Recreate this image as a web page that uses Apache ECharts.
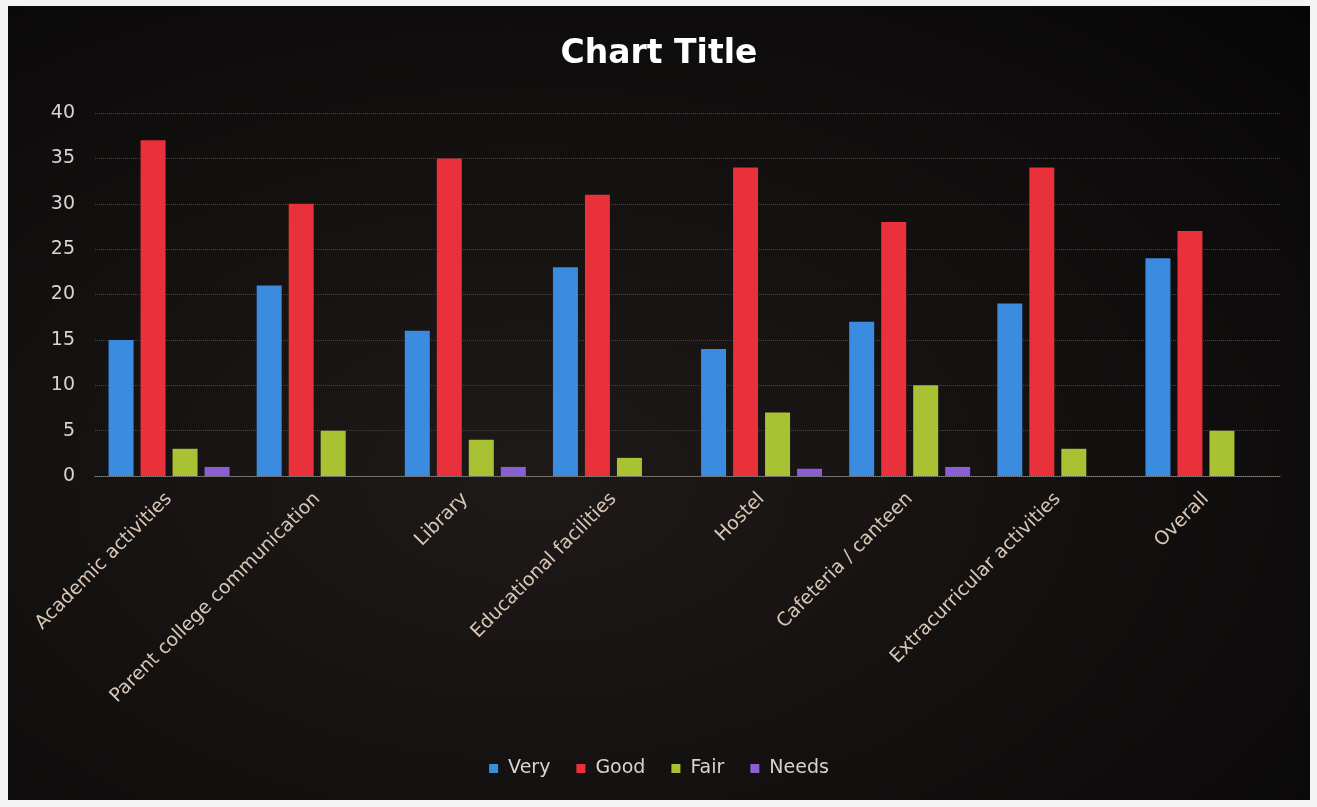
<!DOCTYPE html>
<html><head><meta charset="utf-8">
<script src="https://cdn.jsdelivr.net/npm/echarts@6/dist/echarts.min.js"></script>
<style>
html,body{margin:0;padding:0;background:#f4f4f4;width:1317px;height:807px;overflow:hidden}
#frame{position:absolute;left:8px;top:6px;width:1302px;height:794px;background:radial-gradient(ellipse at 40% 60%,#1e1a19 0%,#120f0f 55%,#070606 100%)}
#c{position:absolute;left:0;top:0;width:1302px;height:794px}
</style></head>
<body><div id="frame"><div id="c"></div></div>
<script>
const categories = ["Academic activities","Parent college communication","Library","Educational facilities","Hostel","Cafeteria / canteen","Extracurricular activities","Overall"];
const seriesNames = ["Very","Good","Fair","Needs"];
const very  = [15,21,16,23,14,17,19,24];
const good  = [37,30,35,31,34,28,34,27];
const fair  = [3,5,4,2,7,10,3,5];
const needs = [1,0,1,0,0.8,1,0,0];
const yTicks = [0,5,10,15,20,25,30,35,40];

const colors = ["#3b8be0","#e8313a","#a9c233","#8b5fd4"];
const values = [very,good,fair,needs];
const chart = echarts.init(document.getElementById('c'));
chart.setOption({
  animation:false,
  backgroundColor:'transparent',
  title:{text:'Chart Title',left:'center',top:27,textStyle:{color:'#ffffff',fontSize:33,fontWeight:'bold',fontFamily:'DejaVu Sans'}},
  legend:{bottom:17,left:'center',itemWidth:9,itemHeight:9,itemGap:26,icon:'rect',
    textStyle:{color:'#d9d4d2',fontSize:19,fontFamily:'DejaVu Sans',padding:[0,0,0,5]},data:seriesNames},
  grid:{left:87,right:30,top:107,bottom:324},
  xAxis:{type:'category',data:categories,
    axisLine:{show:true,lineStyle:{color:'#8a8580',type:'dotted',width:1}},
    axisTick:{show:false},
    axisLabel:{interval:0,rotate:45,color:'#d8c6b6',fontSize:19,fontFamily:'DejaVu Sans',margin:20}},
  yAxis:{type:'value',min:yTicks[0],max:yTicks[yTicks.length-1],interval:5,
    axisLine:{show:false},axisTick:{show:false},
    axisLabel:{color:'#d9d4d2',fontSize:19,fontFamily:'DejaVu Sans',margin:20},
    splitLine:{lineStyle:{color:'#4a4542',type:'dotted',width:1}}},
  series:seriesNames.map((n,i)=>({name:n,type:'bar',data:values[i],barWidth:25,barGap:'28%',
    itemStyle:{color:colors[i]}}))
});
</script></body></html>
